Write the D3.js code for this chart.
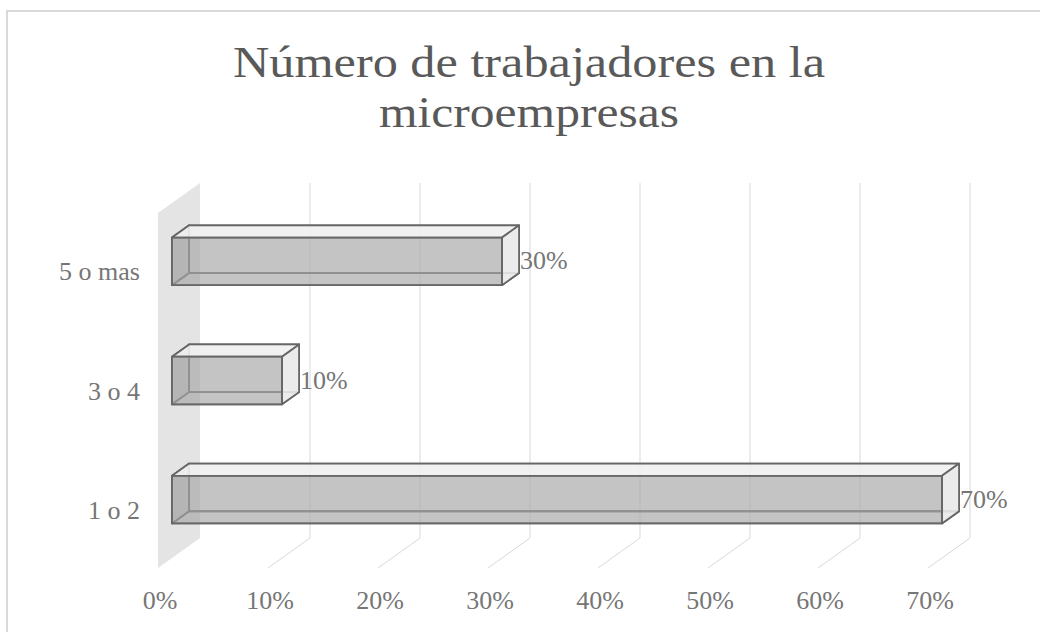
<!DOCTYPE html>
<html>
<head>
<meta charset="utf-8">
<script src="https://cdn.jsdelivr.net/npm/d3@7"></script>
<style>
  html, body { margin: 0; padding: 0; background: #fff; }
  svg { display: block; font-family: "Liberation Serif", "Times New Roman", serif; }
</style>
</head>
<body>
<svg id="chart" width="1040" height="632"></svg>
<script>
const categories = ['5 o mas', '3 o 4', '1 o 2'];
const values = [0.30, 0.10, 0.70];
const tickValues = [0, 0.1, 0.2, 0.3, 0.4, 0.5, 0.6, 0.7];
const titleLines = ['Número de trabajadores en la', 'microempresas'];
const titleWidths = [592, 300];

const svg = d3.select('#chart');
const width = 1040;
const height = 632;

// back plane of the 3D box
const x = d3.scaleLinear().domain([0, 0.7]).range([200, 970]);
const y = d3.scaleBand()
  .domain(categories)
  .range([183, 538])
  .paddingInner(0.6)
  .paddingOuter(0.29);

// oblique depth offset (one full unit of depth)
const depthX = -42;
const depthY = 30;
const barBack = 0.26;
const barFront = 0.667;

const P = (v, yy, d) => [x(v) + depthX * d, yy + depthY * d];
const poly = (pts) => 'M' + pts.map((p) => p.join(',')).join('L') + 'Z';
const pct = d3.format('.0%');
const labelColor = '#767676';

// chart border
svg.append('rect')
  .attr('x', 7).attr('y', 11)
  .attr('width', 1100).attr('height', 700)
  .attr('fill', 'none')
  .attr('stroke', '#d9d9d9')
  .attr('stroke-width', 2);

// title, two lines
svg.append('g')
  .selectAll('text')
  .data(titleLines)
  .join('text')
  .attr('x', 529)
  .attr('y', (_, i) => 77 + i * 50)
  .attr('text-anchor', 'middle')
  .attr('fill', '#595959')
  .attr('font-size', 44)
  .attr('textLength', (_, i) => titleWidths[i])
  .attr('lengthAdjust', 'spacingAndGlyphs')
  .text((d) => d);

const [y0, y1] = y.range();

// side wall
svg.append('path')
  .attr('d', poly([P(0, y0, 0), P(0, y1, 0), P(0, y1, 1), P(0, y0, 1)]))
  .attr('fill', '#e4e4e4');

// gridlines on back wall + floor
const grid = svg.append('g')
  .attr('stroke', '#d9d9d9')
  .attr('stroke-width', 1)
  .attr('fill', 'none');
grid.selectAll('path')
  .data(tickValues.filter((t) => t > 0))
  .join('path')
  .attr('d', (t) => 'M' + [P(t, y0, 0), P(t, y1, 0), P(t, y1, 1)].map((p) => p.join(',')).join('L'));

// tick labels at front edge of floor
svg.append('g')
  .selectAll('text')
  .data(tickValues)
  .join('text')
  .attr('x', (t) => P(t, y1, 1)[0] + 2)
  .attr('y', 609)
  .attr('text-anchor', 'middle')
  .attr('fill', labelColor)
  .attr('font-size', 26)
  .text(pct);

// category labels
svg.append('g')
  .selectAll('text')
  .data(categories)
  .join('text')
  .attr('x', 140)
  .attr('y', (c) => y(c) + y.bandwidth() / 2 + depthY + 9)
  .attr('text-anchor', 'end')
  .attr('fill', labelColor)
  .attr('font-size', 26)
  .text((c) => c);

// bars as 3D boxes
const bars = svg.append('g')
  .selectAll('g')
  .data(categories.map((c, i) => ({ c, v: values[i] })))
  .join('g');

bars.each(function (d) {
  const g = d3.select(this);
  const t = y(d.c);
  const b = t + y.bandwidth();
  const BTL = P(0, t, barBack), BTR = P(d.v, t, barBack);
  const BBL = P(0, b, barBack), BBR = P(d.v, b, barBack);
  const FTL = P(0, t, barFront), FTR = P(d.v, t, barFront);
  const FBL = P(0, b, barFront), FBR = P(d.v, b, barFront);
  const faces = [
    { pts: [BTL, BTR, BBR, BBL], fill: 'none' },
    { pts: [BBL, BBR, FBR, FBL], fill: 'none' },
    { pts: [BTL, FTL, FBL, BBL], fill: '#b4b4b4', op: 0.35 },
    { pts: [BTL, BTR, FTR, FTL], fill: '#efefef', op: 0.9 },
    { pts: [BTR, FTR, FBR, BBR], fill: '#e9e9e9', op: 0.9 },
    { pts: [FTL, FTR, FBR, FBL], fill: '#a5a5a5', op: 0.66 },
  ];
  g.selectAll('path')
    .data(faces)
    .join('path')
    .attr('d', (f) => poly(f.pts))
    .attr('fill', (f) => f.fill)
    .attr('fill-opacity', (f) => f.op ?? 1)
    .attr('stroke', '#666666')
    .attr('stroke-width', 1.8)
    .attr('stroke-linejoin', 'round');

  // data label
  g.append('text')
    .attr('x', BTR[0] + 1)
    .attr('y', (FTL[1] + FBL[1]) / 2 + 8)
    .attr('fill', labelColor)
    .attr('font-size', 26)
    .text(pct(d.v));
});
</script>
</body>
</html>
